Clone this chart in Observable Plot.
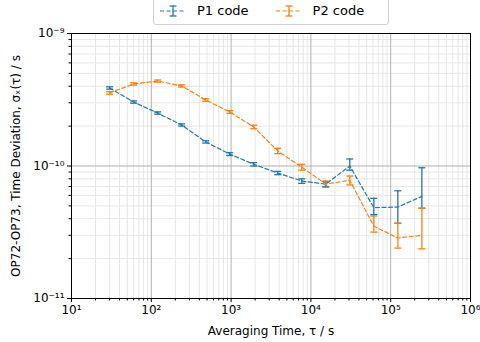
<!DOCTYPE html>
<html><head><meta charset="utf-8">
<script src="https://cdn.jsdelivr.net/npm/d3@7"></script>
<script src="https://cdn.jsdelivr.net/npm/@observablehq/plot@0.6"></script>
<style>
body{margin:0;background:#fff;font-family:"DejaVu Sans",sans-serif;}
#wrap{position:relative;width:480px;height:342px;}
#legend{position:absolute;left:153px;top:-4px;width:234px;height:27px;border:1px solid #d0d0d0;border-radius:3px;background:#fff;font-size:13px;display:flex;align-items:center;}
#legend span{display:inline-flex;align-items:center;}
</style></head>
<body><div id="wrap"><div id="legend"></div></div>
<script>
const tau = [30, 60, 120, 240, 480, 960, 1920, 3840, 7680, 15360, 30720, 61440, 122880, 245760];
const p1 = [3.88e-10, 3.04e-10, 2.51e-10, 2.04e-10, 1.52e-10, 1.23e-10, 1.03e-10, 0.885e-10, 0.77e-10, 0.73e-10, 1.00e-10, 0.485e-10, 0.49e-10, 0.59e-10];
const p1lo = [3.80e-10, 2.98e-10, 2.46e-10, 2.00e-10, 1.49e-10, 1.20e-10, 1.00e-10, 0.86e-10, 0.74e-10, 0.70e-10, 0.93e-10, 0.43e-10, 0.37e-10, 0.48e-10];
const p1hi = [3.96e-10, 3.10e-10, 2.56e-10, 2.08e-10, 1.55e-10, 1.26e-10, 1.06e-10, 0.91e-10, 0.80e-10, 0.76e-10, 1.13e-10, 0.57e-10, 0.65e-10, 0.97e-10];
const p2 = [3.56e-10, 4.16e-10, 4.38e-10, 4.02e-10, 3.15e-10, 2.56e-10, 1.97e-10, 1.30e-10, 0.98e-10, 0.73e-10, 0.78e-10, 0.352e-10, 0.286e-10, 0.30e-10];
const p2lo = [3.48e-10, 4.08e-10, 4.30e-10, 3.94e-10, 3.08e-10, 2.50e-10, 1.91e-10, 1.24e-10, 0.93e-10, 0.69e-10, 0.72e-10, 0.317e-10, 0.24e-10, 0.237e-10];
const p2hi = [3.64e-10, 4.24e-10, 4.46e-10, 4.10e-10, 3.22e-10, 2.62e-10, 2.03e-10, 1.36e-10, 1.03e-10, 0.77e-10, 0.84e-10, 0.42e-10, 0.37e-10, 0.48e-10];
const seriesNames = ["P1 code", "P2 code"];
const colors = ["#1f77b4", "#ff7f0e"];
const xMajor = [1e1, 1e2, 1e3, 1e4, 1e5, 1e6];
const yMajor = [1e-11, 1e-10, 1e-9];
const xLabels = ["10¹", "10²", "10³", "10⁴", "10⁵", "10⁶"];
const yLabels = ["10⁻¹¹", "10⁻¹⁰", "10⁻⁹"];

function minors(majors) {
  const out = [];
  for (let i = 0; i < majors.length - 1; i++) for (let k = 2; k <= 9; k++) out.push(majors[i] * k);
  return out;
}
const xMinor = minors(xMajor), yMinor = minors(yMajor);

const rows = [];
tau.forEach((t, i) => {
  rows.push({t, s: seriesNames[0], v: p1[i], lo: p1lo[i], hi: p1hi[i]});
  rows.push({t, s: seriesNames[1], v: p2[i], lo: p2lo[i], hi: p2hi[i]});
});
const caps = rows.flatMap(d => [{t: d.t, s: d.s, y: d.lo}, {t: d.t, s: d.s, y: d.hi}]);
const capSymbol = {draw(ctx) { ctx.moveTo(-3.5, 0); ctx.lineTo(3.5, 0); }};
const fmtX = d => xLabels[xMajor.indexOf(d)];
const fmtY = d => yLabels[yMajor.findIndex(m => Math.abs(m - d) / m < 1e-6)];

const chart = Plot.plot({
  width: 480, height: 342,
  marginLeft: 71, marginRight: 10, marginTop: 33, marginBottom: 44,
  style: {fontFamily: "DejaVu Sans, sans-serif", fontSize: "11px", background: "white"},
  x: {type: "log", domain: [1e1, 1e6]},
  y: {type: "log", domain: [1e-11, 1e-9]},
  color: {domain: seriesNames, range: colors},
  marks: [
    Plot.gridX(xMinor, {stroke: "#e6e6e6", strokeOpacity: 1}),
    Plot.gridY(yMinor, {stroke: "#e6e6e6", strokeOpacity: 1}),
    Plot.gridX(xMajor, {stroke: "#b0b0b0", strokeOpacity: 1}),
    Plot.gridY(yMajor, {stroke: "#b0b0b0", strokeOpacity: 1}),
    Plot.axisX(xMinor, {tickSize: 2.5, tickFormat: () => "", stroke: "#000", label: null}),
    Plot.axisY(yMinor, {tickSize: 2.5, tickFormat: () => "", stroke: "#000", label: null}),
    Plot.axisX(xMajor, {tickSize: 4, tickPadding: 3, tickFormat: fmtX, fontSize: 12, color: "#000", label: "Averaging Time, τ / s", labelAnchor: "center", labelArrow: "none", labelOffset: 36}),
    Plot.axisY(yMajor, {tickSize: 4, tickPadding: 3, tickFormat: fmtY, fontSize: 12, color: "#000", label: "OP72-OP73, Time Deviation, σₓ(τ) / s", labelAnchor: "center", labelArrow: "none", labelOffset: 60}),
    Plot.line(rows, {x: "t", y: "v", z: "s", stroke: "s", strokeWidth: 1.2, strokeDasharray: "4,2.5"}),
    Plot.ruleX(rows, {x: "t", y1: "lo", y2: "hi", stroke: "s", strokeWidth: 1.3}),
    Plot.dot(caps, {x: "t", y: "y", stroke: "s", symbol: capSymbol, strokeWidth: 1.3, fill: "none"}),
    Plot.frame({stroke: "#000", strokeWidth: 1})
  ]
});
document.getElementById("wrap").prepend(chart);

const leg = document.getElementById("legend");
seriesNames.forEach((name, i) => {
  const c = colors[i];
  const span = document.createElement("span");
  span.style.marginLeft = i === 0 ? "5px" : "26px";
  span.innerHTML = `<svg width="28" height="14" style="margin-right:10px"><line x1="1" x2="27" y1="7" y2="7" stroke="${c}" stroke-width="1.2" stroke-dasharray="4,2.5"/><line x1="14" x2="14" y1="2" y2="12" stroke="${c}" stroke-width="1.3"/><line x1="10.5" x2="17.5" y1="12" y2="12" stroke="${c}" stroke-width="1.3"/><line x1="10.5" x2="17.5" y1="2" y2="2" stroke="${c}" stroke-width="1.3"/></svg>${name}`;
  leg.appendChild(span);
});
</script></body></html>
